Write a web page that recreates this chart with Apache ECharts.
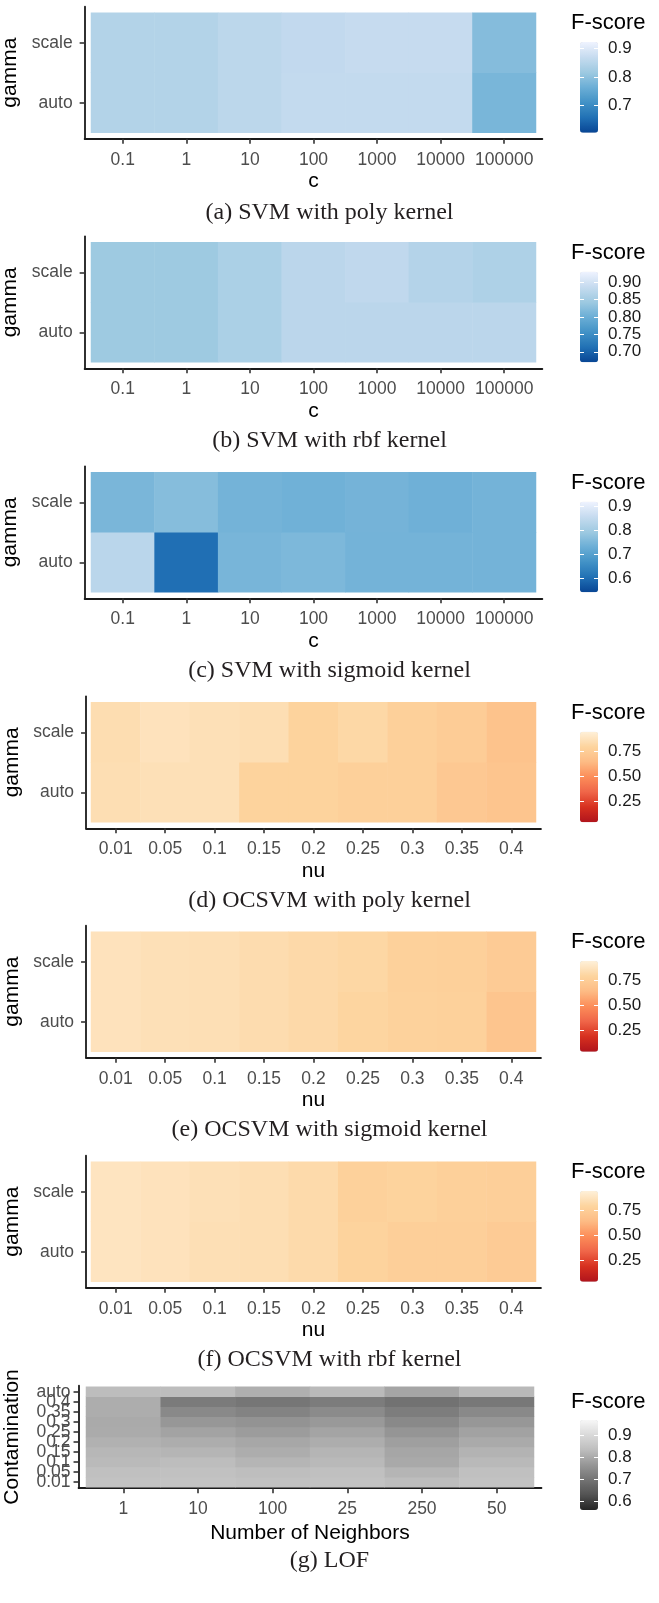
<!DOCTYPE html>
<html><head><meta charset="utf-8">
<script src="https://cdn.jsdelivr.net/npm/echarts@6/dist/echarts.min.js"></script>
<style>html,body{margin:0;padding:0;background:#fff}#c{width:659px;height:1603px}</style>
</head><body><div id="c"></div>
<script>
// ---------- categories ----------
const cLevels = ['0.1','1','10','100','1000','10000','100000'];
const nuLevels = ['0.01','0.05','0.1','0.15','0.2','0.25','0.3','0.35','0.4'];
const gammaLevels = ['auto','scale'];
const neighborLevels = ['1','10','100','25','250','50'];
const contaminationLevels = ['0.01','0.05','0.1','0.15','0.2','0.25','0.3','0.35','0.4','auto'];

// ---------- F-scores ----------
const svmPolyScale = [0.844, 0.844, 0.856, 0.864, 0.870, 0.870, 0.790];
const svmPolyAuto  = [0.844, 0.844, 0.856, 0.865, 0.866, 0.866, 0.777];
const svmRbfScale  = [0.843, 0.843, 0.857, 0.874, 0.879, 0.866, 0.860];
const svmRbfAuto   = [0.843, 0.843, 0.857, 0.874, 0.874, 0.874, 0.874];
const svmSigScale  = [0.749, 0.764, 0.741, 0.736, 0.742, 0.735, 0.741];
const svmSigAuto   = [0.839, 0.600, 0.746, 0.752, 0.741, 0.741, 0.741];

const ocPolyScale = [0.838, 0.865, 0.854, 0.844, 0.784, 0.811, 0.766, 0.742, 0.688];
const ocPolyAuto  = [0.844, 0.854, 0.854, 0.784, 0.784, 0.766, 0.766, 0.718, 0.700];
const ocSigScale  = [0.865, 0.854, 0.849, 0.833, 0.817, 0.806, 0.772, 0.766, 0.736];
const ocSigAuto   = [0.865, 0.854, 0.849, 0.833, 0.817, 0.795, 0.779, 0.772, 0.700];
const ocRbfScale  = [0.876, 0.865, 0.854, 0.844, 0.822, 0.772, 0.784, 0.766, 0.760];
const ocRbfAuto   = [0.876, 0.865, 0.849, 0.844, 0.822, 0.784, 0.760, 0.760, 0.736];

// LOF rows, columns follow neighborLevels
const lof001  = [0.846, 0.848, 0.844, 0.846, 0.834, 0.846];
const lof005  = [0.841, 0.844, 0.837, 0.841, 0.820, 0.841];
const lof010  = [0.829, 0.834, 0.819, 0.827, 0.799, 0.827];
const lof015  = [0.824, 0.820, 0.805, 0.820, 0.793, 0.817];
const lof020  = [0.812, 0.805, 0.795, 0.805, 0.781, 0.800];
const lof025  = [0.802, 0.788, 0.776, 0.790, 0.764, 0.787];
const lof030  = [0.800, 0.768, 0.759, 0.770, 0.740, 0.768];
const lof035  = [0.805, 0.740, 0.728, 0.745, 0.717, 0.740];
const lof040  = [0.805, 0.713, 0.704, 0.715, 0.696, 0.707];
const lofAuto = [0.834, 0.834, 0.809, 0.829, 0.792, 0.827];

// ---------- legend scales ----------
const rangeSvmPoly = [0.602, 0.923];
const rangeSvmRbf  = [0.670, 0.929];
const rangeSvmSig  = [0.539, 0.921];
const rangeOc      = [0.040, 0.940];
const rangeLof     = [0.561, 0.970];
const ticksSvmPoly = [0.7, 0.8, 0.9];
const ticksSvmRbf  = [0.70, 0.75, 0.80, 0.85, 0.90];
const ticksSvmSig  = [0.6, 0.7, 0.8, 0.9];
const ticksOc      = [0.25, 0.50, 0.75];
const ticksLof     = [0.6, 0.7, 0.8, 0.9];

const captions = ['(a) SVM with poly kernel', '(b) SVM with rbf kernel', '(c) SVM with sigmoid kernel',
  '(d) OCSVM with poly kernel', '(e) OCSVM with sigmoid kernel', '(f) OCSVM with rbf kernel', '(g) LOF'];

// ---------- palettes ----------
const BLUES = ['#084594','#2171B5','#4292C6','#6BAED6','#9ECAE1','#C6DBEF','#EFF3FF'];
const ORRD  = ['#B0141C','#D7301F','#EF6548','#FC8D59','#FDBB84','#FDD49E','#FEF0D9'];
const GREYS = ['#252525','#525252','#737373','#969696','#BDBDBD','#D9D9D9','#F7F7F7'];

const SANS = '"Liberation Sans", Arial, sans-serif';
const SERIF = '"Liberation Serif", "Times New Roman", serif';

const panels = [
  {x:cLevels, y:gammaLevels, rows:[svmPolyAuto, svmPolyScale], xName:'c', yName:'gamma', range:rangeSvmPoly, ticks:ticksSvmPoly, dec:1, colors:BLUES},
  {x:cLevels, y:gammaLevels, rows:[svmRbfAuto, svmRbfScale], xName:'c', yName:'gamma', range:rangeSvmRbf, ticks:ticksSvmRbf, dec:2, colors:BLUES},
  {x:cLevels, y:gammaLevels, rows:[svmSigAuto, svmSigScale], xName:'c', yName:'gamma', range:rangeSvmSig, ticks:ticksSvmSig, dec:1, colors:BLUES},
  {x:nuLevels, y:gammaLevels, rows:[ocPolyAuto, ocPolyScale], xName:'nu', yName:'gamma', range:rangeOc, ticks:ticksOc, dec:2, colors:ORRD},
  {x:nuLevels, y:gammaLevels, rows:[ocSigAuto, ocSigScale], xName:'nu', yName:'gamma', range:rangeOc, ticks:ticksOc, dec:2, colors:ORRD},
  {x:nuLevels, y:gammaLevels, rows:[ocRbfAuto, ocRbfScale], xName:'nu', yName:'gamma', range:rangeOc, ticks:ticksOc, dec:2, colors:ORRD},
  {x:neighborLevels, y:contaminationLevels, rows:[lof001,lof005,lof010,lof015,lof020,lof025,lof030,lof035,lof040,lofAuto],
    xName:'Number of Neighbors', yName:'Contamination', range:rangeLof, ticks:ticksLof, dec:1, colors:GREYS}
];

// ---------- layout (pixels) ----------
const layout = [
  {top:12.7,  h:120, left:91, w:445, xGap:32, yGap:61, yMargin:12, legTitle:24,     barTop:42.1,   barH:90.6, cap:212.5},
  {top:242.3, h:120, left:91, w:445, xGap:32, yGap:61, yMargin:12, legTitle:253.8,  barTop:271.7,  barH:90.6, cap:441},
  {top:472.3, h:120, left:91, w:445, xGap:32, yGap:61, yMargin:12, legTitle:483.8,  barTop:501.7,  barH:90.6, cap:671},
  {top:702.3, h:120, left:91, w:445, xGap:32, yGap:61, yMargin:12, legTitle:713.8,  barTop:731.7,  barH:90.6, cap:900.5},
  {top:931.7, h:120, left:91, w:445, xGap:32, yGap:61, yMargin:12, legTitle:943.2,  barTop:961.1,  barH:90.6, cap:1130},
  {top:1161.7,h:120, left:91, w:445, xGap:32, yGap:61, yMargin:12, legTitle:1173.2, barTop:1191.1, barH:90.6, cap:1360},
  {top:1386.7,h:100.5,left:86, w:448, xGap:34, yGap:56, yMargin:8, legTitle:1403,  barTop:1420,   barH:90,   cap:1561}
];

const grid = [], xAxis = [], yAxis = [], series = [], visualMap = [], title = [];

panels.forEach((p, i) => {
  const L = layout[i];
  const gx = 0.1 * L.w / p.x.length;
  const gy = 0.1 * L.h / p.y.length;
  const gHeat = grid.length;
  grid.push({left:L.left, top:L.top, width:L.w, height:L.h, containLabel:false, outerBoundsMode:'none'});
  const gFrame = grid.length;
  grid.push({left:L.left - gx, top:L.top - gy, width:L.w + 2*gx, height:L.h + 2*gy, containLabel:false, outerBoundsMode:'none'});
  const gLeg = grid.length;
  grid.push({left:580, top:L.barTop, width:18, height:L.barH, containLabel:false, outerBoundsMode:'none'});

  const xi = xAxis.length;
  xAxis.push({type:'category', gridIndex:gHeat, data:p.x, offset:gy,
    axisLine:{show:false},
    axisTick:{show:true, alignWithLabel:true, length:5, lineStyle:{color:'#333', width:1.6}},
    axisLabel:{interval:0, margin:12, color:'#4D4D4D', fontSize:17.5, fontFamily:SANS},
    splitLine:{show:false},
    name:p.xName, nameLocation:'middle', nameGap:L.xGap,
    nameTextStyle:{fontSize:21, color:'#000', fontFamily:SANS}});
  xAxis.push({type:'value', gridIndex:gFrame, min:0, max:1,
    axisLine:{show:true, onZero:false, lineStyle:{color:'#1a1a1a', width:1.8}},
    axisTick:{show:false}, axisLabel:{show:false}, splitLine:{show:false}});
  xAxis.push({type:'value', gridIndex:gLeg, min:0, max:1, show:false});

  const yi = yAxis.length;
  yAxis.push({type:'category', gridIndex:gHeat, data:p.y, offset:gx,
    axisLine:{show:false},
    axisTick:{show:true, alignWithLabel:true, length:5, lineStyle:{color:'#333', width:1.6}},
    axisLabel:{interval:0, margin:L.yMargin, color:'#4D4D4D', fontSize:17.5, fontFamily:SANS},
    splitLine:{show:false},
    name:p.yName, nameLocation:'middle', nameGap:L.yGap, nameRotate:90,
    nameTextStyle:{fontSize:21, color:'#000', fontFamily:SANS}});
  yAxis.push({type:'value', gridIndex:gFrame, min:0, max:1,
    axisLine:{show:true, onZero:false, lineStyle:{color:'#1a1a1a', width:1.8}},
    axisTick:{show:false}, axisLabel:{show:false}, splitLine:{show:false}});
  const fmt = v => Number(v).toFixed(p.dec);
  yAxis.push({type:'value', gridIndex:gLeg, position:'left', min:p.range[0], max:p.range[1], z:10,
    axisLine:{show:false}, splitLine:{show:false},
    axisTick:{show:true, inside:true, length:4, lineStyle:{color:'#fff', width:1}, customValues:p.ticks},
    axisLabel:{show:false, customValues:p.ticks}});
  yAxis.push({type:'value', gridIndex:gLeg, position:'right', min:p.range[0], max:p.range[1], z:10,
    axisLine:{show:false}, splitLine:{show:false},
    axisTick:{show:true, inside:true, length:4, lineStyle:{color:'#fff', width:1}, customValues:p.ticks},
    axisLabel:{show:true, customValues:p.ticks, formatter:fmt, margin:10, color:'#1a1a1a', fontSize:17, fontFamily:SANS}});

  const data = [];
  p.rows.forEach((row, r) => row.forEach((v, c) => data.push([c, r, v])));
  const si = series.length;
  series.push({type:'heatmap', xAxisIndex:xi, yAxisIndex:yi, data:data,
    emphasis:{disabled:true}, itemStyle:{borderWidth:0}, silent:true});

  visualMap.push({type:'continuous', seriesIndex:si, min:p.range[0], max:p.range[1],
    inRange:{color:p.colors}, calculable:false, orient:'vertical', left:580, top:L.barTop,
    itemWidth:18, itemHeight:L.barH, padding:0, z:2, hoverLink:false, text:null});

  title.push({text:'F-score', left:571, top:L.legTitle - 12, padding:0,
    textStyle:{fontSize:22, fontWeight:'normal', color:'#000', fontFamily:SANS}});
  title.push({text:captions[i], left:'center', top:L.cap - 12, padding:0,
    textStyle:{fontSize:24, fontWeight:'normal', color:'#231F20', fontFamily:SERIF}});
});

const chart = echarts.init(document.getElementById('c'), null, {renderer:'canvas'});
chart.setOption({backgroundColor:'#fff', animation:false, grid, xAxis, yAxis, series, visualMap, title});
</script></body></html>
